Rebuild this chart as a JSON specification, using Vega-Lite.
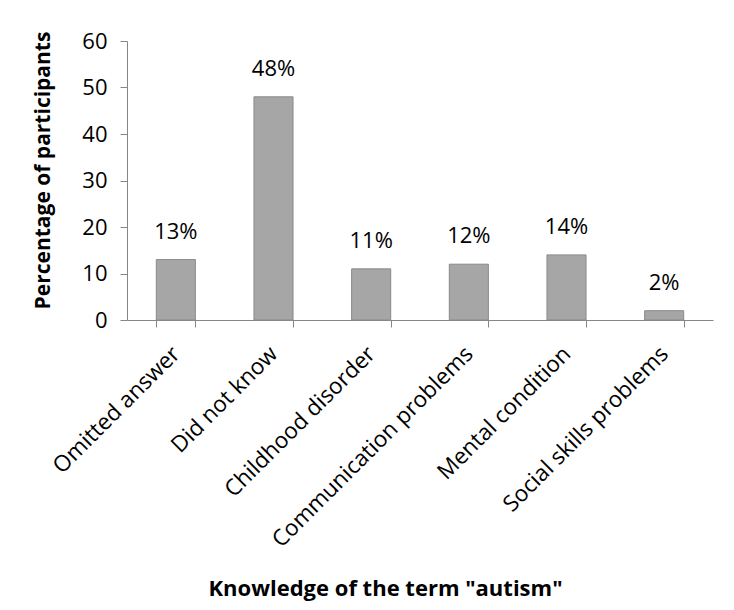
{
  "$schema": "https://vega.github.io/schema/vega-lite/v6.json",
  "autosize": {"type": "none"},
  "width": 586,
  "height": 279,
  "padding": {"left": 127, "top": 41, "right": 21, "bottom": 290},
  "background": "white",
  "config": {
    "font": "Open Sans",
    "view": {"stroke": null},
    "axis": {
      "domainColor": "#868686",
      "tickColor": "#868686",
      "labelColor": "black",
      "titleColor": "black",
      "labelFont": "Open Sans",
      "titleFont": "Open Sans",
      "grid": false
    }
  },
  "data": {
    "values": [
      {"answer": "Omitted answer", "pct": 13},
      {"answer": "Did not know", "pct": 48},
      {"answer": "Childhood disorder", "pct": 11},
      {"answer": "Communication problems", "pct": 12},
      {"answer": "Mental condition", "pct": 14},
      {"answer": "Social skills problems", "pct": 2}
    ]
  },
  "transform": [{"calculate": "datum.pct + '%'", "as": "label"}],
  "encoding": {
    "x": {
      "field": "answer",
      "type": "nominal",
      "sort": null,
      "scale": {"paddingInner": 0.6, "paddingOuter": 0.3},
      "axis": {
        "title": "Knowledge of the term \"autism\"",
        "titleFontSize": 22,
        "titleFontWeight": "bold",
        "titleX": 258,
        "titleY": 268,
        "titleBaseline": "middle",
        "labelAngle": -45,
        "labelAlign": "right",
        "labelBaseline": "middle",
        "labelFontSize": 22.5,
        "labelPadding": 23,
        "tickBand": "extent",
        "tickSize": 7,
        "labelLimit": 400
      }
    },
    "y": {
      "field": "pct",
      "type": "quantitative",
      "scale": {"domain": [0, 60]},
      "axis": {
        "title": "Percentage of participants",
        "titleFontSize": 21,
        "titleFontWeight": "bold",
        "titleX": -84,
        "titleY": 129,
        "titleAngle": -90,
        "titleBaseline": "middle",
        "titleAlign": "center",
        "values": [0, 10, 20, 30, 40, 50, 60],
        "labelFontSize": 22,
        "labelPadding": 13,
        "tickSize": 7
      }
    }
  },
  "layer": [
    {
      "mark": {"type": "bar", "color": "#a6a6a6", "stroke": "#8a8a8a", "strokeWidth": 1}
    },
    {
      "mark": {"type": "text", "fontSize": 22, "dy": -28, "baseline": "middle", "color": "black"},
      "encoding": {"text": {"field": "label", "type": "nominal"}}
    }
  ]
}
